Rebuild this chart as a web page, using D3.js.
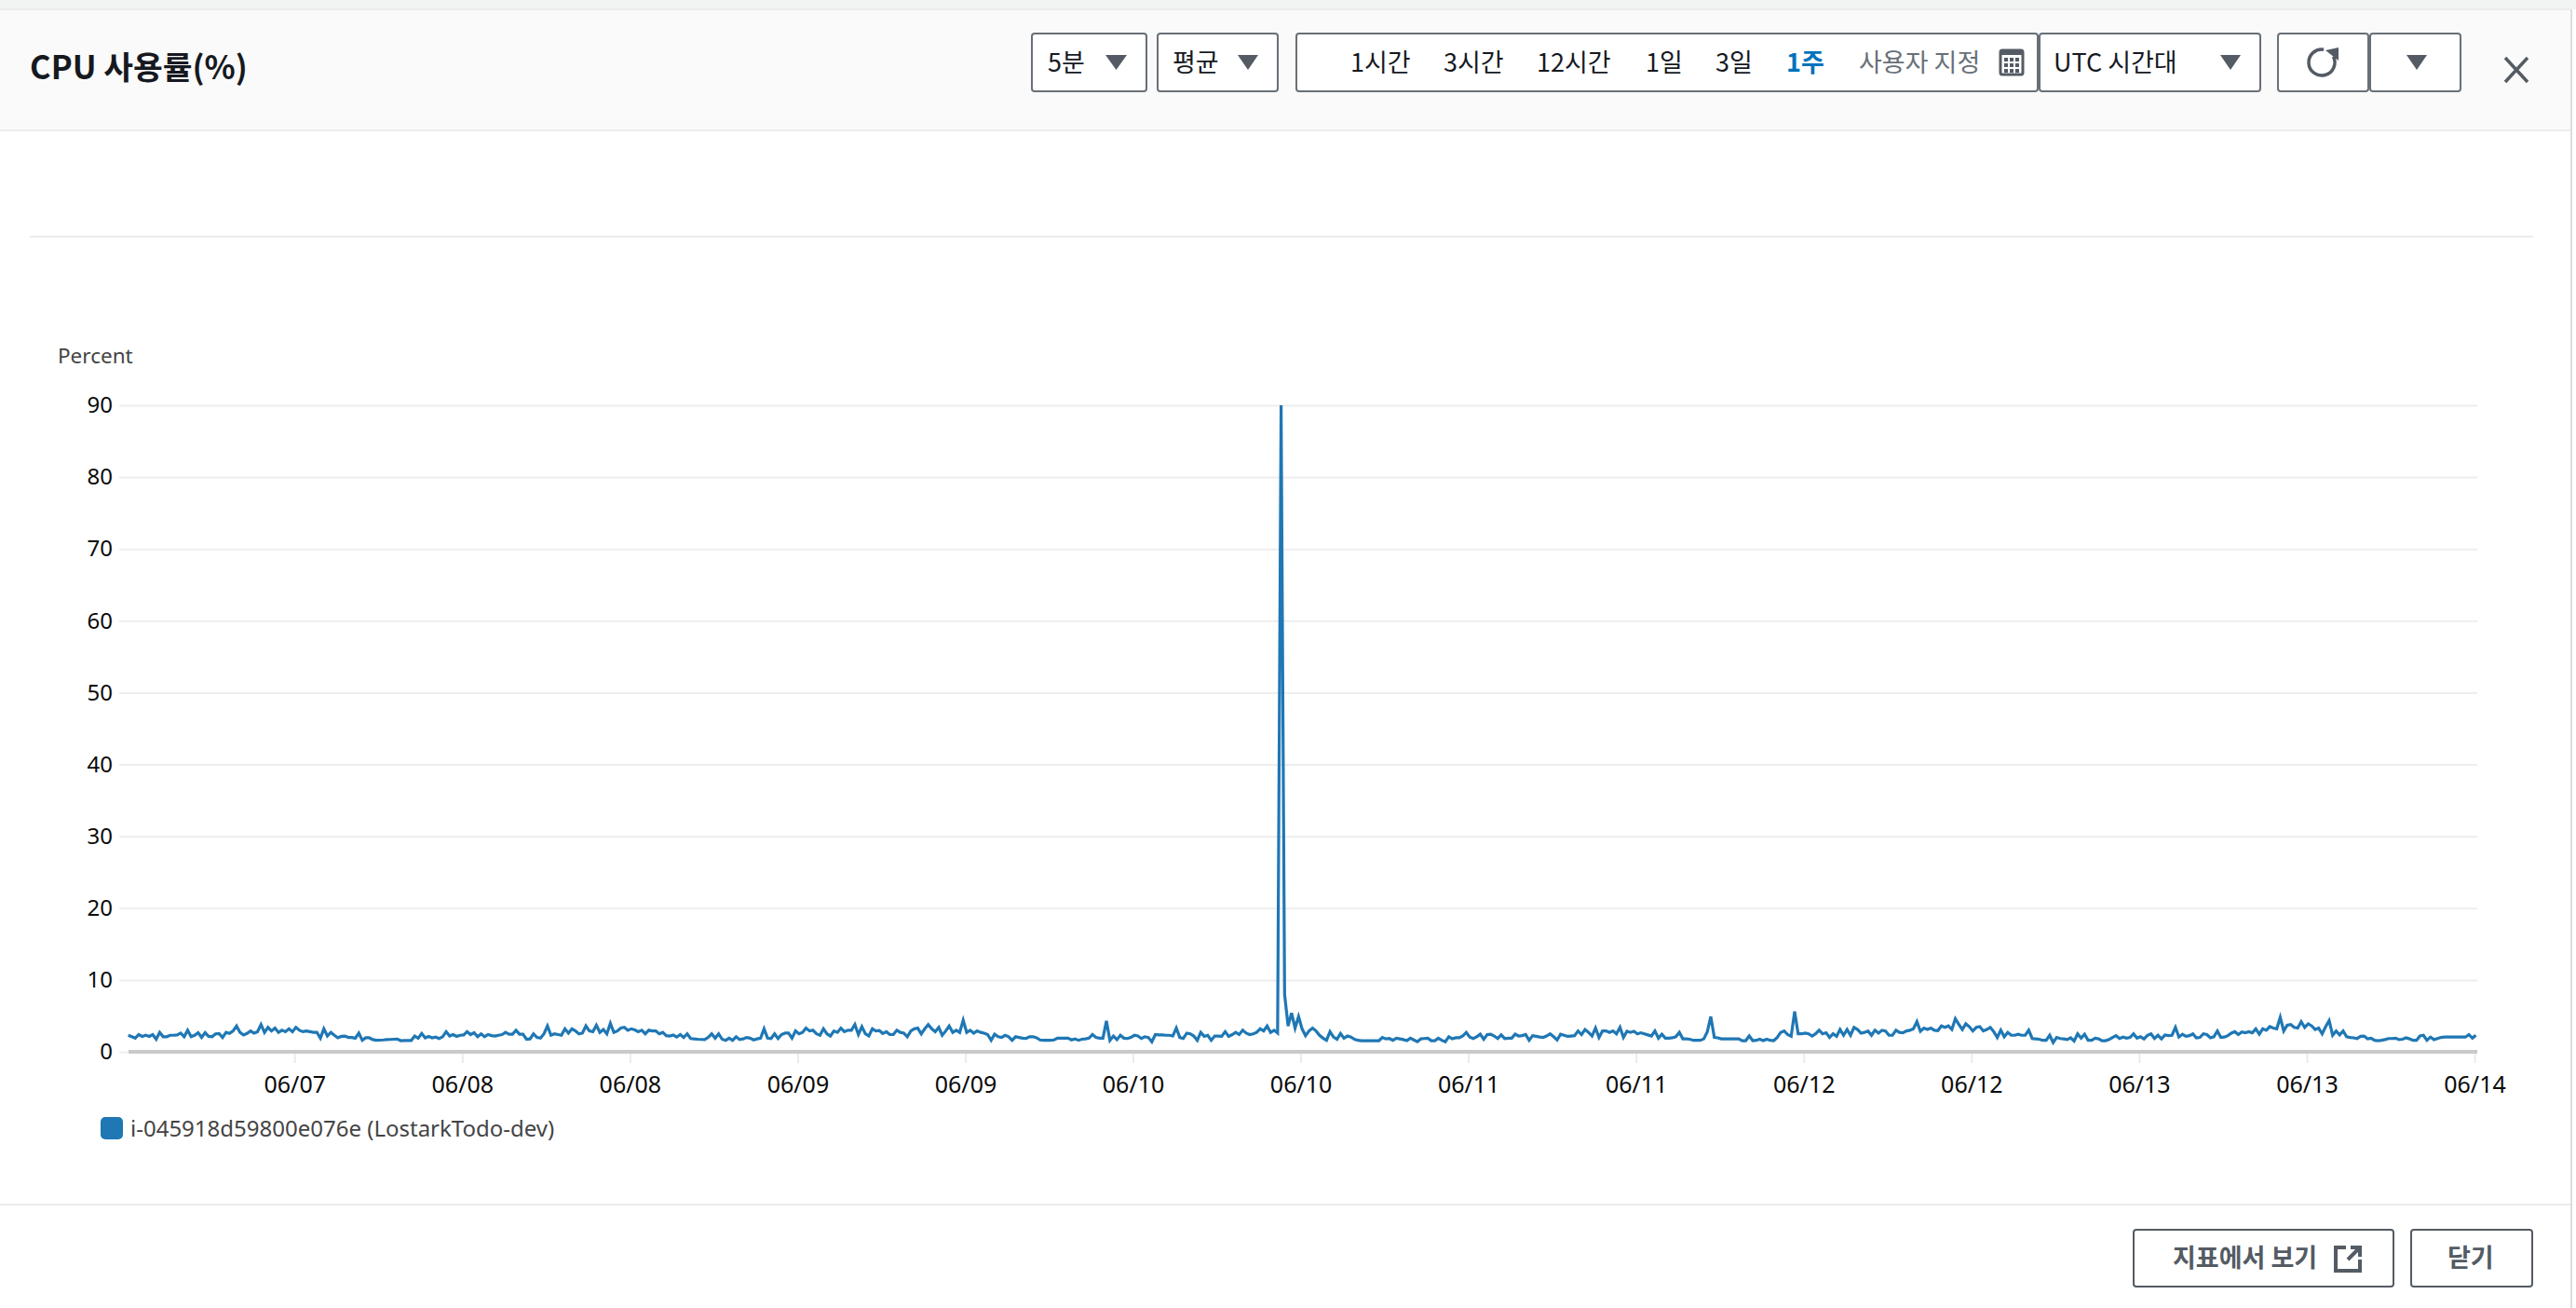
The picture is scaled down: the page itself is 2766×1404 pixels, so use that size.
<!DOCTYPE html>
<html>
<head>
<meta charset="utf-8">
<script src="https://cdn.jsdelivr.net/npm/d3@7"></script>
<style>
    html, body { margin: 0; padding: 0; background: #fff; }
    svg { display: block; }
    text { font-family: "Noto Sans CJK KR", "Noto Sans", sans-serif; }
    .axis text { font-family: "Noto Sans", sans-serif; font-size: 24px; fill: #0a0a0a; }
    .x-axis text { font-size: 25px; }
</style>
</head>
<body>
<div id="chart"></div>
<script>
const halfDay01 = [2.3,2.1,1.9,2.4,2.15,2.3,2.15,2.4,1.75,2.7,2.1,2.1,2.3,2.3,2.35,2.6,2.1,3.0,2.1,2.3,2.65,2.0,2.65,2.15,2.1,2.5,2.55,2.0,2.7,2.55,2.9,3.6,2.7,2.35,2.55,2.9,2.6,2.8,3.8,2.7,3.4,2.9,3.3,2.7,3.0,2.8,3.2,2.8];
const halfDay02 = [3.4,3.0,2.8,2.9,2.8,2.7,2.7,1.9,3.2,2.2,2.7,2.3,1.95,2.15,2.2,2.0,2.0,1.9,2.6,1.6,1.95,1.95,1.7,1.6,1.62,1.65,1.7,1.72,1.75,1.78,1.55,1.58,1.58,1.58,2.2,1.9,2.55,1.95,2.15,1.95,2.05,1.85,2.1,2.8,2.2,2.4,2.15,2.3];
const halfDay03 = [2.35,2.8,2.4,2.65,2.1,2.5,2.1,2.4,2.25,2.2,2.3,2.4,2.7,2.45,2.45,3.0,2.45,2.45,1.75,1.8,2.5,2.0,1.9,2.5,3.6,2.3,2.5,2.4,2.3,3.2,2.6,3.2,2.9,2.5,2.6,3.6,2.9,2.8,3.7,2.7,3.1,2.5,3.95,2.7,2.9,3.3,3.4,3.0];
const halfDay04 = [3.2,3.05,2.8,3.0,2.5,3.0,2.9,2.9,2.5,2.7,2.25,2.2,2.35,2.05,2.4,2.0,2.5,1.85,1.8,1.75,1.72,1.7,2.0,2.5,1.9,2.5,1.75,1.6,1.9,1.6,2.1,1.7,1.8,2.0,1.9,1.65,1.8,1.9,3.2,1.9,1.85,2.5,1.85,2.4,2.6,2.6,1.9,2.9];
const halfDay05 = [2.5,2.7,3.3,2.9,3.0,2.5,2.3,3.2,2.5,2.2,2.9,2.7,3.3,2.8,3.0,3.0,3.8,2.4,3.5,2.5,2.2,3.2,2.9,2.95,2.55,2.8,2.4,2.4,3.0,2.7,2.6,2.1,2.9,3.2,3.3,2.5,3.2,3.8,3.2,2.8,3.4,2.3,2.9,3.6,2.7,3.0,2.7,4.4];
const halfDay06 = [2.7,3.0,2.6,2.9,2.7,2.6,2.4,1.6,2.45,2.1,2.0,2.3,2.1,1.6,2.1,2.0,1.9,1.85,2.1,2.1,1.95,1.65,1.6,1.6,1.6,1.65,1.9,1.9,1.9,1.9,1.65,1.8,1.6,1.75,1.8,1.9,2.4,2.0,1.9,1.9,4.3,1.6,2.2,1.7,2.3,1.9,1.85,2.0];
const halfDay07 = [2.3,2.2,1.85,2.1,2.0,1.4,2.4,2.35,2.35,2.3,2.3,2.2,3.3,2.0,1.85,2.6,2.5,2.2,1.6,2.7,2.15,2.3,1.6,2.2,2.2,2.15,2.8,2.15,2.4,2.7,2.4,3.0,2.6,2.4,2.5,2.7,3.2,2.9,3.6,2.7,3.0,2.6,90,8.0,3.6,5.4,3.3,4.9];
const halfDay08 = [3.2,2.25,2.9,3.3,2.9,2.3,1.9,1.6,2.8,2.05,1.75,2.55,1.9,2.2,2.05,1.75,1.6,1.55,1.55,1.55,1.55,1.55,1.55,2.0,1.8,1.85,1.6,1.9,1.8,1.7,1.55,1.9,1.65,1.4,1.8,1.85,1.9,1.55,1.55,1.9,1.6,1.4,2.1,1.8,1.95,1.95,2.2,2.7];
const halfDay09 = [2.05,1.85,2.1,2.45,1.75,2.4,2.45,2.2,1.85,2.35,1.85,1.9,1.9,2.45,2.2,2.25,2.4,1.6,2.25,2.15,2.05,2.0,2.2,2.5,2.1,1.65,2.45,2.3,2.15,2.2,2.25,2.9,2.4,3.1,2.7,2.2,3.3,2.0,2.9,2.9,2.7,2.9,2.5,3.4,2.0,2.85,2.7,2.85];
const halfDay10 = [2.5,2.65,2.5,2.35,2.2,2.9,1.9,2.45,1.9,1.9,1.95,2.1,2.7,1.8,1.8,1.75,1.6,1.6,1.6,1.8,2.8,4.9,2.0,1.95,1.8,1.8,1.8,1.8,1.8,1.8,1.55,1.55,2.2,1.55,1.6,1.75,1.55,1.75,1.6,1.55,2.0,2.7,2.9,2.4,2.15,5.6,2.5,2.5];
const halfDay11 = [2.6,2.5,2.2,2.5,3.0,2.5,2.65,2.0,2.5,2.15,3.1,2.3,3.1,2.3,3.4,3.1,2.6,2.7,2.9,2.3,3.0,2.6,3.0,2.9,2.3,2.3,3.0,2.7,2.65,2.9,3.0,3.2,4.2,2.85,3.3,3.1,3.3,3.0,2.95,3.6,3.4,3.6,3.1,4.6,3.8,3.1,3.9,3.5];
const halfDay12 = [2.9,3.4,3.5,2.9,3.1,3.4,2.8,2.0,3.0,2.1,2.7,2.3,2.3,2.45,2.3,2.3,3.0,1.85,1.8,1.75,1.6,1.6,2.3,1.3,2.0,1.85,1.8,1.7,1.95,1.5,2.5,1.9,2.45,1.6,1.6,1.9,1.8,1.55,1.55,1.7,2.0,2.25,1.85,2.05,1.9,2.0,2.5,1.9];
const halfDay13 = [2.1,1.8,2.3,2.5,1.85,2.3,1.8,2.35,2.25,2.3,3.4,2.05,2.45,2.15,2.25,2.5,1.95,2.0,2.5,2.4,1.95,2.1,2.9,2.0,2.05,2.25,2.6,2.8,2.4,2.75,2.65,2.8,2.65,3.2,2.45,3.2,3.0,3.5,3.3,3.2,4.8,2.9,3.7,3.8,3.4,3.3,4.2,3.4];
const halfDay14 = [3.9,3.6,3.1,3.3,2.5,3.5,4.35,2.3,2.9,2.35,2.9,2.1,2.0,1.95,1.85,2.15,2.2,1.8,1.9,1.6,1.55,1.6,1.7,1.85,1.85,1.9,1.7,1.75,1.95,1.8,1.6,1.6,2.2,2.3,1.6,2.05,1.7,1.85,2.0,2.05,2.05,2.05,2.05,2.05,2.05,2.05,2.4,1.9,2.3];

const yTicks = [0, 10, 20, 30, 40, 50, 60, 70, 80, 90];
const xTickLabels = ["06/07", "06/08", "06/08", "06/09", "06/09", "06/10", "06/10", "06/11", "06/11", "06/12", "06/12", "06/13", "06/13", "06/14"];
const rangeLabels = ["1시간", "3시간", "12시간", "1일", "3일", "1주", "사용자 지정"];
const seriesName = "i-045918d59800e076e (LostarkTodo-dev)";

const cpuValues = [].concat(halfDay01, halfDay02, halfDay03, halfDay04, halfDay05, halfDay06, halfDay07,
    halfDay08, halfDay09, halfDay10, halfDay11, halfDay12, halfDay13, halfDay14);

const WIDTH = 2766, HEIGHT = 1404;
const lineColor = "#1f77b4", controlInk = "#545b64", borderInk = "#687078", textInk = "#16191f";

const svg = d3.select("#chart").append("svg").attr("width", WIDTH).attr("height", HEIGHT);

// Scales: x is hours since the start of the week
const x = d3.scaleLinear().domain([0, 168]).range([136.2, 2657]);
const y = d3.scaleLinear().domain([0, 90]).range([1129, 435]);

// ---- panel chrome ----
svg.append("rect").attr("width", WIDTH).attr("height", 10).attr("fill", "#f2f3f3");
svg.append("rect").attr("y", 10).attr("width", 2760).attr("height", 130).attr("fill", "#fafafa");
[[0, 2760, 10], [0, 2760, 140], [32, 2720, 254], [0, 2760, 1293]].forEach(([x1, x2, yy]) => {
    svg.append("line").attr("x1", x1).attr("x2", x2).attr("y1", yy).attr("y2", yy)
        .attr("stroke", "#eaeded").attr("stroke-width", 2);
});
svg.append("line").attr("x1", 2761).attr("x2", 2761).attr("y1", 10).attr("y2", HEIGHT)
    .attr("stroke", "#dcdcdc").attr("stroke-width", 2);

svg.append("text").attr("x", 32).attr("y", 85).attr("font-size", 34.5).attr("font-weight", 700)
    .attr("fill", textInk).text("CPU 사용률(%)");

function box(x0, x1, y0, y1, stroke) {
    svg.append("rect").attr("x", x0 + 1).attr("y", y0 + 1).attr("width", x1 - x0 - 2).attr("height", y1 - y0 - 2)
        .attr("rx", 3).attr("fill", "#fff").attr("stroke", stroke || borderInk).attr("stroke-width", 2);
}
function triangle(x0, x1) {
    svg.append("path").attr("d", `M${x0},59 L${x1},59 L${(x0 + x1) / 2},75 Z`).attr("fill", controlInk);
}
function label(xx, yy, str, fill, weight, size) {
    return svg.append("text").attr("x", xx).attr("y", yy).attr("font-size", size || 27)
        .attr("font-weight", weight || 400).attr("fill", fill || textInk).text(str);
}

box(1107, 1232, 35, 99);
label(1125, 77, "5분");
triangle(1187, 1210);
box(1242, 1373, 35, 99);
label(1259, 77, "평균");
triangle(1329, 1351);

box(1391, 2189, 35, 99);
box(2189, 2428, 35, 99);
const rangeX = [1450, 1550, 1650, 1767, 1842, 1918, 1996];
rangeLabels.forEach((d, i) => {
    const active = d === "1주";
    label(rangeX[i], 77, d, active ? "#0073bb" : (i === 6 ? borderInk : textInk), active ? 700 : 400);
});
label(2205, 77, "UTC 시간대");
triangle(2384, 2406);

// Calendar icon
svg.append("rect").attr("x", 2148).attr("y", 54).attr("width", 24).attr("height", 26).attr("rx", 2)
    .attr("fill", "#fff").attr("stroke", controlInk).attr("stroke-width", 3);
svg.append("rect").attr("x", 2148).attr("y", 54).attr("width", 24).attr("height", 5).attr("fill", controlInk);
d3.cross([0, 1, 2], [0, 1, 2]).forEach(([c, r]) => {
    svg.append("rect").attr("x", 2152 + c * 6).attr("y", 62 + r * 6).attr("width", 4).attr("height", 4).attr("fill", controlInk);
});

// Refresh and more buttons
box(2445, 2544, 35, 99);
box(2544, 2643, 35, 99);
svg.append("path").attr("d", d3.arc()({ innerRadius: 14, outerRadius: 14, startAngle: 1.1, endAngle: 2 * Math.PI + 0.15 }))
    .attr("transform", "translate(2493,67)").attr("fill", "none").attr("stroke", controlInk).attr("stroke-width", 3.5);
svg.append("path").attr("d", "M2497,54 L2511,51 L2511,65 Z").attr("fill", controlInk);
triangle(2584, 2606);

// Close icon
svg.append("path").attr("d", "M2690,62 L2714,88 M2714,62 L2690,88").attr("stroke", controlInk)
    .attr("stroke-width", 3.5).attr("fill", "none");

// Footer buttons
box(2290, 2571, 1319, 1382, controlInk);
box(2588, 2720, 1319, 1382, controlInk);
label(2333, 1360, "지표에서 보기", controlInk, 700, 27);
label(2628, 1360, "닫기", controlInk, 700, 27);
svg.append("path").attr("d", "M2519,1339 L2508,1339 L2508,1364 L2534,1364 L2534,1352 M2521,1352 L2534,1339 M2524,1339 L2534,1339 L2534,1349")
    .attr("fill", "none").attr("stroke", controlInk).attr("stroke-width", 4);

// ---- chart ----
label(62, 390, "Percent", "#444", 400, 22.5).style("font-family", '"Noto Sans", sans-serif');

const yAxis = svg.append("g").attr("class", "axis").attr("transform", "translate(128,0)")
    .call(d3.axisLeft(y).tickValues(yTicks).tickSize(0).tickPadding(7).tickFormat(d3.format("d")));
yAxis.select(".domain").remove();
yAxis.selectAll(".tick").append("line").attr("x1", 0).attr("x2", 2532).attr("stroke", "#eeeeee").attr("stroke-width", 2);

const xAxis = svg.append("g").attr("class", "axis x-axis").attr("transform", "translate(0,1129)")
    .call(d3.axisBottom(x).tickValues(d3.range(12, 169, 12)).tickSize(12).tickPadding(14)
        .tickFormat((d, i) => xTickLabels[i]));
xAxis.select(".domain").remove();
xAxis.selectAll(".tick line").attr("stroke", "#e9ebed").attr("stroke-width", 2);

// Heavy baseline over the zero gridline
svg.append("line").attr("x1", 138).attr("x2", 2660).attr("y1", y(0)).attr("y2", y(0))
    .attr("stroke", "#c9c9c9").attr("stroke-width", 4);

const line = d3.line()
    .x((d, i) => x(0.1 + i * 0.25))
    .y(d => y(d));

svg.append("path").datum(cpuValues)
    .attr("fill", "none")
    .attr("stroke", lineColor)
    .attr("stroke-width", 3.2)
    .attr("stroke-linejoin", "miter")
    .attr("d", line);

// Legend
svg.append("rect").attr("x", 108).attr("y", 1199).attr("width", 24).attr("height", 24).attr("rx", 5).attr("fill", lineColor);
label(140, 1220, seriesName, "#444", 400, 24).style("font-family", '"Noto Sans", sans-serif');
</script>
</body>
</html>
